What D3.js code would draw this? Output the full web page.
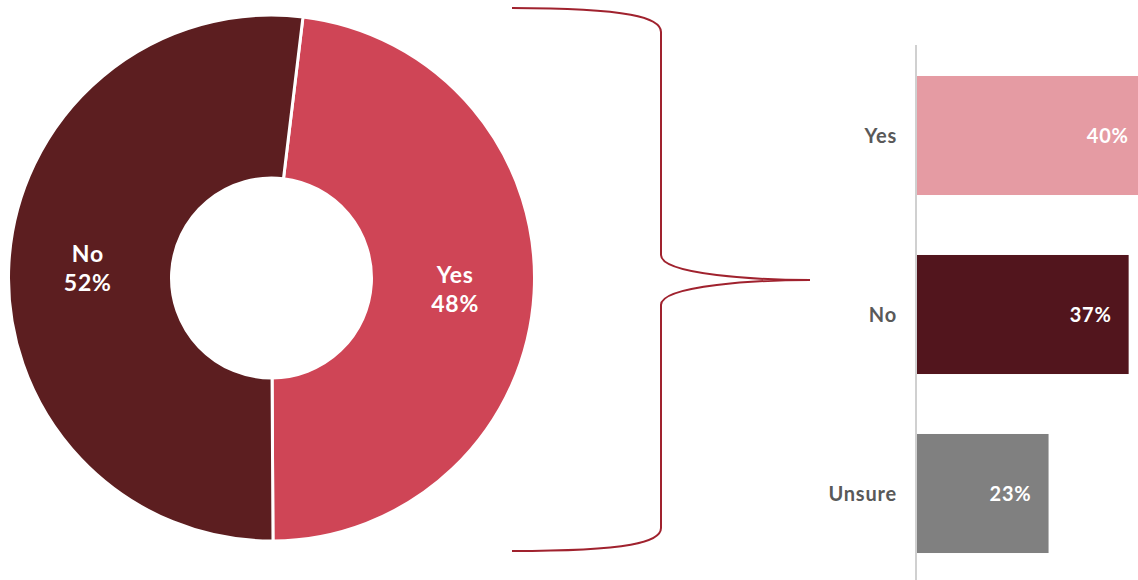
<!DOCTYPE html>
<html>
<head>
<meta charset="utf-8">
<script src="https://cdn.jsdelivr.net/npm/d3@7"></script>
<style>
  body { margin: 0; background: #fff; }
  svg { display: block; font-family: Lato, "Open Sans", sans-serif; }
</style>
</head>
<body>
<svg id="chart" width="1138" height="580"></svg>
<script>
// donut data
const pieLabels = ["Yes", "No"];
const pieValues = [48, 52];
const pieColors = ["#cf4556", "#5c1e20"];

// bar breakdown data
const barLabels = ["Yes", "No", "Unsure"];
const barValues = [40, 37, 23];
const barColors = ["#e59ba3", "#52151d", "#808080"];

const svg = d3.select("#chart");

// ---- donut ----
const cx = 271.5, cy = 278;
const pie = d3.pie().sort(null).startAngle(0.12).endAngle(0.12 + 2 * Math.PI);
const arc = d3.arc().innerRadius(100).outerRadius(263);
const labelArc = d3.arc().innerRadius(184).outerRadius(184);
const arcs = pie(pieValues);

const g = svg.append("g").attr("transform", `translate(${cx},${cy})`);
g.selectAll("path")
  .data(arcs)
  .enter().append("path")
  .attr("d", arc)
  .attr("fill", (d, i) => pieColors[i])
  .attr("stroke", "#fff")
  .attr("stroke-width", 3);

const lbl = g.selectAll("text.lbl")
  .data(arcs)
  .enter().append("text")
  .attr("class", "lbl")
  .attr("text-anchor", "middle")
  .attr("fill", "#fff")
  .style("font-size", "23px")
  .style("font-weight", "bold")
  .style("letter-spacing", "0.8px");
lbl.append("tspan")
  .attr("x", d => labelArc.centroid(d)[0])
  .attr("y", d => labelArc.centroid(d)[1] - 6)
  .text((d, i) => pieLabels[i]);
lbl.append("tspan")
  .attr("x", d => labelArc.centroid(d)[0])
  .attr("y", d => labelArc.centroid(d)[1] + 23)
  .text((d, i) => pieValues[i] + "%");

// ---- bracket ----
const p = d3.path();
p.moveTo(512, 8);
p.bezierCurveTo(630, 8, 661, 18, 661, 32);
p.lineTo(661, 255);
p.bezierCurveTo(661, 275, 760, 280, 810, 280);
p.bezierCurveTo(760, 280, 661, 285, 661, 305);
p.lineTo(661, 528);
p.bezierCurveTo(661, 542, 630, 551, 512, 551);
svg.append("path")
  .attr("d", p.toString())
  .attr("fill", "none")
  .attr("stroke", "#a0222e")
  .attr("stroke-width", 2);

// ---- bars ----
const x = d3.scaleLinear().domain([0, 40]).range([917, 917 + 40 * 5.72]);
const y = d3.scaleBand().domain(barLabels).range([46, 583])
  .paddingInner(0.335).paddingOuter(0.1675);

svg.selectAll("rect.bar")
  .data(barValues)
  .enter().append("rect")
  .attr("class", "bar")
  .attr("x", x(0))
  .attr("y", (d, i) => y(barLabels[i]))
  .attr("width", d => x(d) - x(0))
  .attr("height", y.bandwidth())
  .attr("fill", (d, i) => barColors[i]);

svg.append("line")
  .attr("x1", 916).attr("x2", 916)
  .attr("y1", 45).attr("y2", 580)
  .attr("stroke", "#d0d0d0")
  .attr("stroke-width", 2);

svg.selectAll("text.cat")
  .data(barLabels)
  .enter().append("text")
  .attr("class", "cat")
  .attr("x", 897)
  .attr("y", d => y(d) + y.bandwidth() / 2 + 7)
  .attr("text-anchor", "end")
  .attr("fill", "#595959")
  .style("font-size", "20px")
  .style("font-weight", "bold")
  .style("letter-spacing", "0.8px")
  .text(d => d);

svg.selectAll("text.val")
  .data(barValues)
  .enter().append("text")
  .attr("class", "val")
  .attr("x", d => x(d) - 17)
  .attr("y", (d, i) => y(barLabels[i]) + y.bandwidth() / 2 + 7)
  .attr("text-anchor", "end")
  .attr("fill", "#fff")
  .style("font-size", "20px")
  .style("font-weight", "bold")
  .style("letter-spacing", "0.8px")
  .text(d => d + "%");
</script>
</body>
</html>
